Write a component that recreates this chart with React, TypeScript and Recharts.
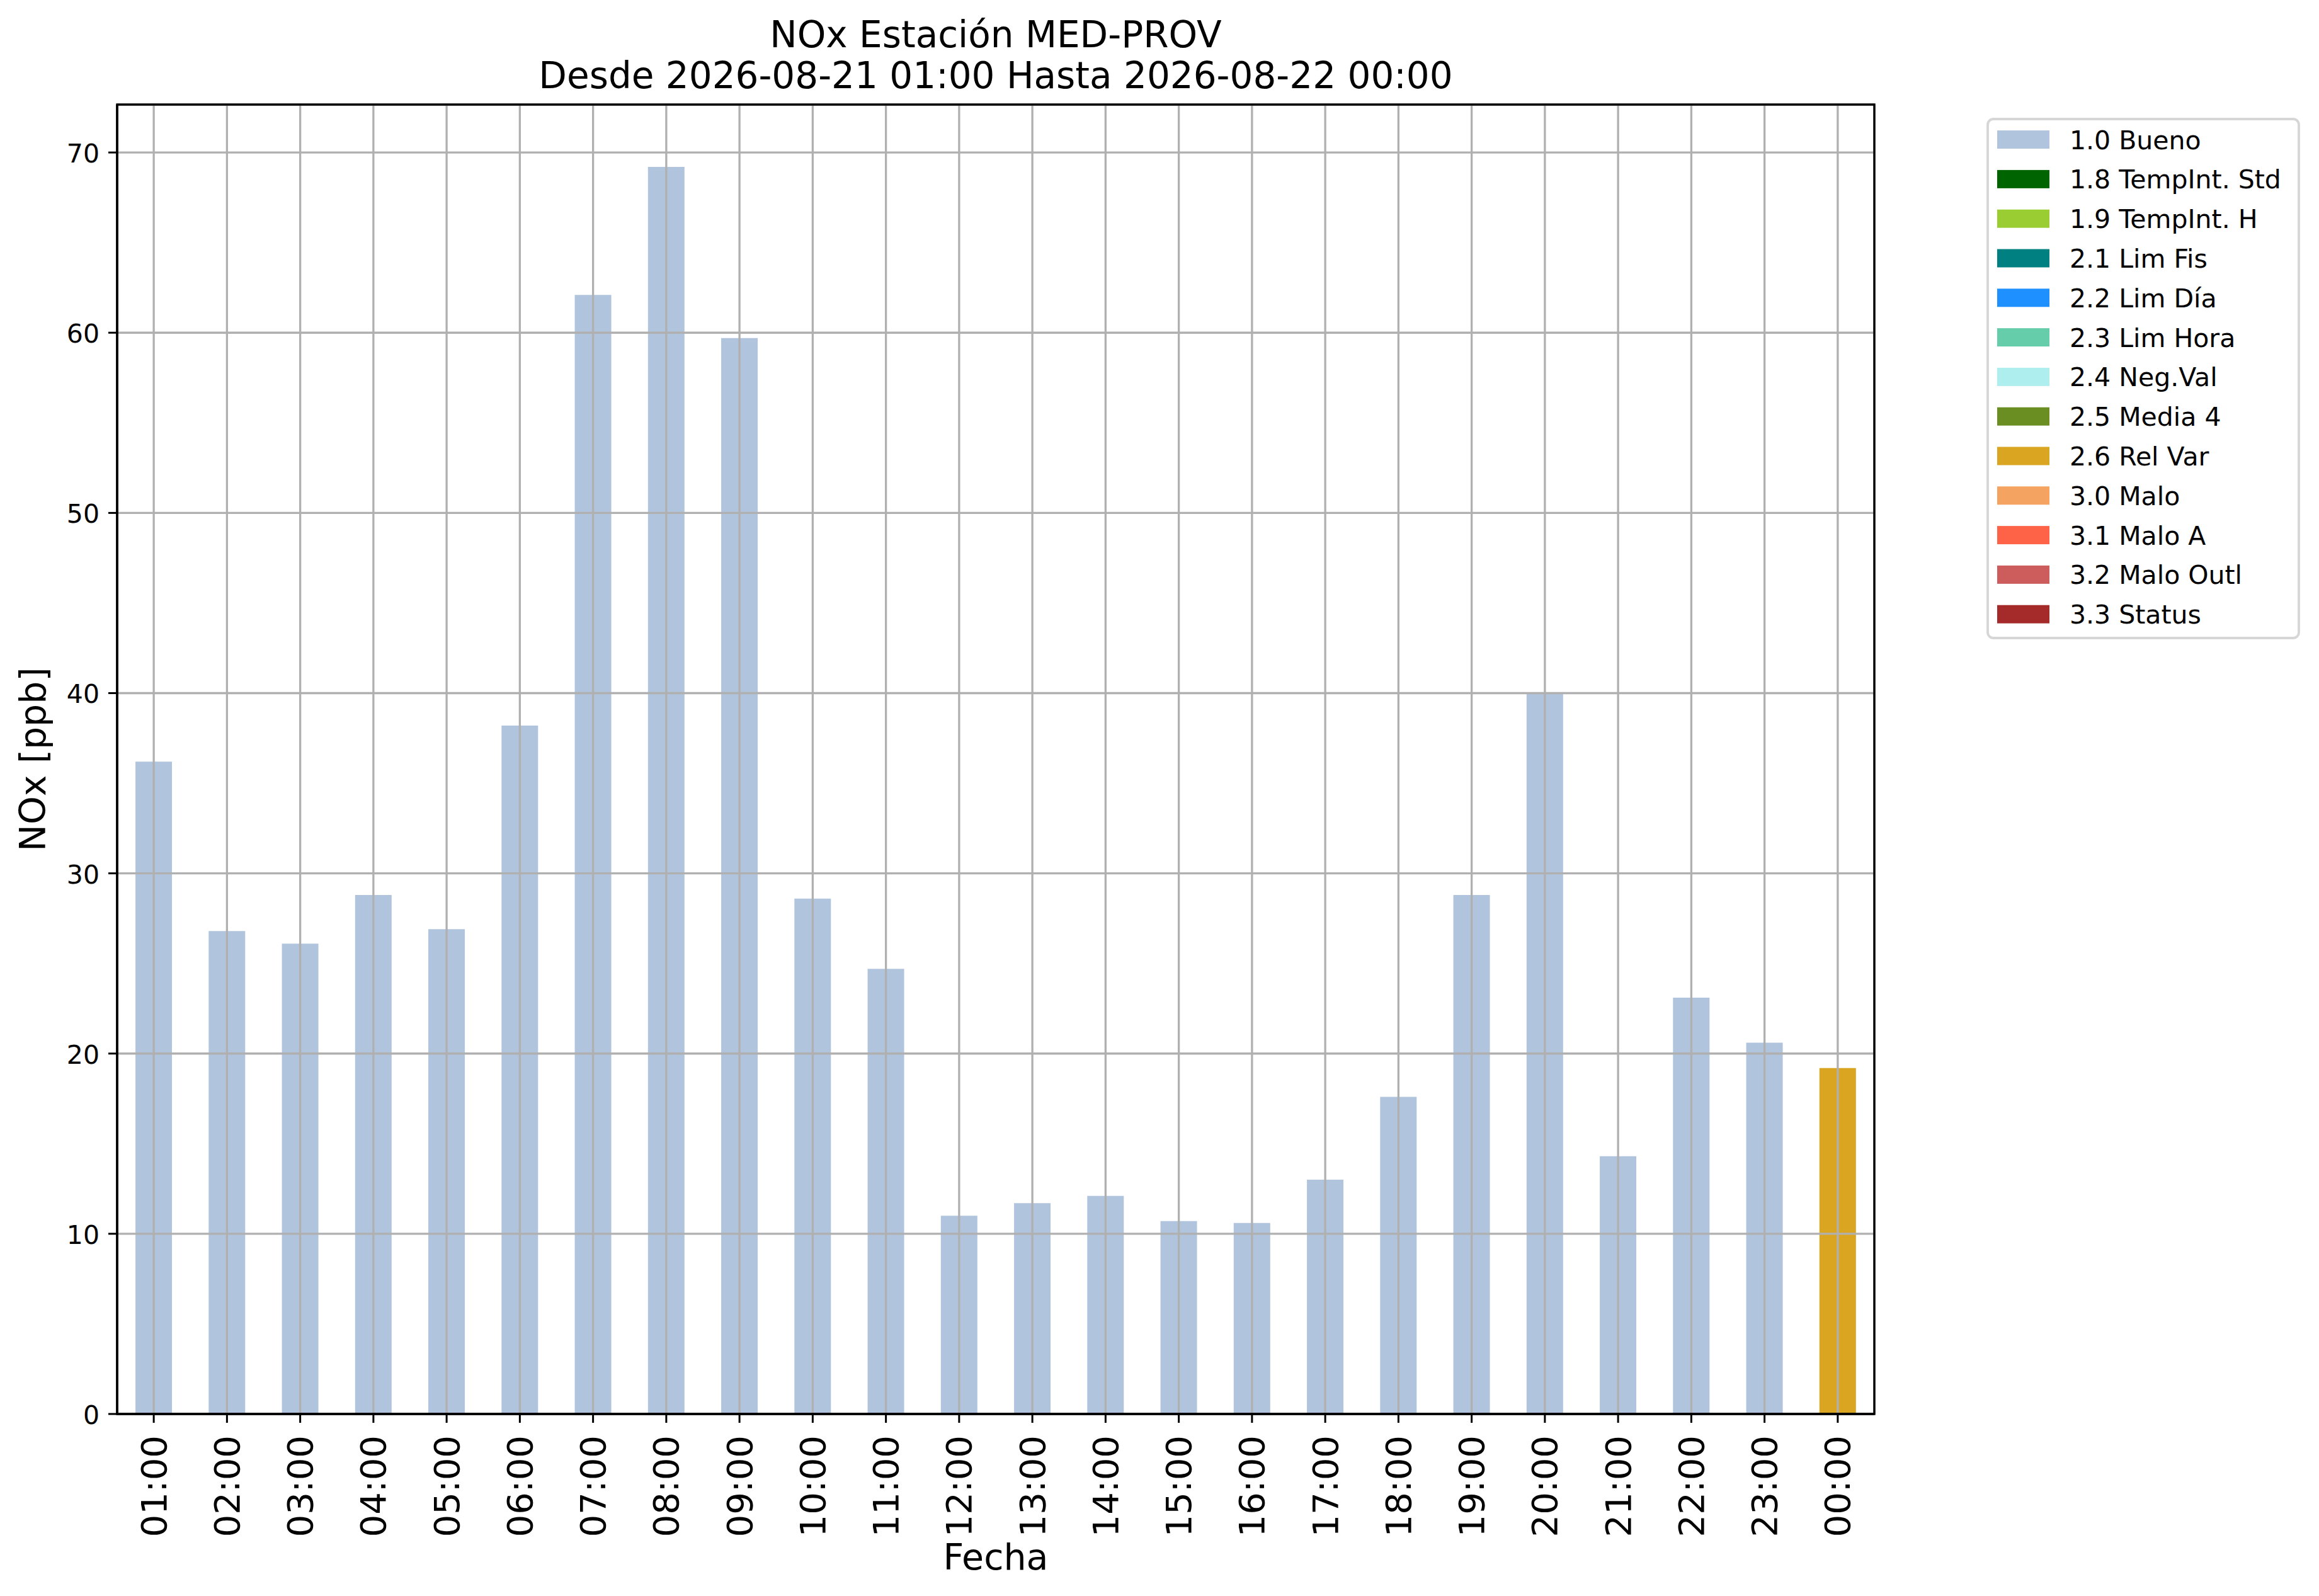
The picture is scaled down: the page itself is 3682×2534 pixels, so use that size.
import React from "react";
import {
  BarChart, Bar, Cell, XAxis, YAxis, CartesianGrid, Legend, ReferenceArea,
} from "recharts";

// hourly NOx readings, 2026-08-21 01:00 .. 2026-08-22 00:00
const HOURS = [
  "01:00", "02:00", "03:00", "04:00", "05:00", "06:00", "07:00", "08:00",
  "09:00", "10:00", "11:00", "12:00", "13:00", "14:00", "15:00", "16:00",
  "17:00", "18:00", "19:00", "20:00", "21:00", "22:00", "23:00", "00:00",
];
const NOX = [
  36.2, 26.8, 26.1, 28.8, 26.9, 38.2, 62.1, 69.2, 59.7, 28.6, 24.7, 11.0,
  11.7, 12.1, 10.7, 10.6, 13.0, 17.6, 28.8, 40.0, 14.3, 23.1, 20.6, 19.2,
];
const FLAGS = [
  "1.0", "1.0", "1.0", "1.0", "1.0", "1.0", "1.0", "1.0", "1.0", "1.0", "1.0", "1.0",
  "1.0", "1.0", "1.0", "1.0", "1.0", "1.0", "1.0", "1.0", "1.0", "1.0", "1.0", "2.6",
];

const FLAG_CODES = ["1.0", "1.8", "1.9", "2.1", "2.2", "2.3", "2.4", "2.5", "2.6", "3.0", "3.1", "3.2", "3.3"];
const FLAG_NAMES = [
  "Bueno", "TempInt. Std", "TempInt. H", "Lim Fis", "Lim Día", "Lim Hora",
  "Neg.Val", "Media 4", "Rel Var", "Malo", "Malo A", "Malo Outl", "Status",
];
const FLAG_COLORS = [
  "#B0C4DE", "#006400", "#9ACD32", "#008080", "#1E90FF", "#66CDAA",
  "#AFEEEE", "#6B8E23", "#DAA520", "#F4A460", "#FF6347", "#CD5C5C", "#A52A2A",
];

const Y_TICKS = [0, 10, 20, 30, 40, 50, 60, 70];
const Y_MAX = 72.66;

const TITLE = "NOx Estación MED-PROV";
const SUBTITLE = "Desde 2026-08-21 01:00 Hasta 2026-08-22 00:00";
const X_LABEL = "Fecha";
const Y_LABEL = "NOx [ppb]";

const FONT = "'DejaVu Sans', sans-serif";
const W = 3682;
const H = 2534;
const PLOT = { left: 186, top: 166, right: 2976, bottom: 2245 };

const data = HOURS.map((h, i) => ({ hour: h, value: NOX[i], flag: FLAGS[i] }));

function colorOf(flag: string) {
  return FLAG_COLORS[FLAG_CODES.indexOf(flag)] ?? "#B0C4DE";
}

function XTick({ x, y, payload }: any) {
  return (
    <text
      x={x} y={y} transform={`rotate(-90, ${x}, ${y})`}
      textAnchor="end" dominantBaseline="central"
      fontFamily={FONT} fontSize={56} fill="#000"
    >
      {payload.value}
    </text>
  );
}

function YTick({ x, y, payload }: any) {
  return (
    <text
      x={x} y={y + 2} textAnchor="end" dominantBaseline="central"
      fontFamily={FONT} fontSize={41} fill="#000"
    >
      {payload.value}
    </text>
  );
}

const LEG_W = 498;
const LEG_H = 828;
const ROW_PITCH = 62.8;

function FlagLegend() {
  return (
    <svg width={LEG_W} height={LEG_H} style={{ display: "block" }}>
      <rect
        x={2} y={2} width={LEG_W - 4} height={LEG_H - 4} rx={9}
        fill="#fff" fillOpacity={0.8} stroke="#d6d6d6" strokeWidth={3.8}
      />
      {FLAG_CODES.map((code, i) => {
        const cy = 34.6 + i * ROW_PITCH;
        return (
          <g key={code}>
            <rect x={17} y={cy - 14.5} width={83} height={29} fill={FLAG_COLORS[i]} />
            <text x={132} y={cy + 15} fontFamily={FONT} fontSize={41} fill="#000">
              {`${code} ${FLAG_NAMES[i]}`}
            </text>
          </g>
        );
      })}
    </svg>
  );
}

export default function App() {
  const cx = (PLOT.left + PLOT.right) / 2;
  const cy = (PLOT.top + PLOT.bottom) / 2;
  return (
    <div style={{ position: "absolute", left: 0, top: 0, width: W, height: H, background: "#fff" }}>
      <BarChart
        width={W} height={H} data={data}
        margin={{ top: PLOT.top, right: W - PLOT.right, bottom: 0, left: 0 }}
        barCategoryGap="25%"
      >
        <XAxis
          dataKey="hour" type="category" interval={0} height={H - PLOT.bottom}
          tick={<XTick />} tickSize={14} tickMargin={20}
          tickLine={{ stroke: "#000", strokeWidth: 3 }}
          axisLine={{ stroke: "#000", strokeWidth: 3.4 }}
        />
        <YAxis
          type="number" domain={[0, Y_MAX]} ticks={Y_TICKS} width={PLOT.left}
          tick={<YTick />} tickSize={14} tickMargin={14}
          tickLine={{ stroke: "#000", strokeWidth: 3 }}
          axisLine={{ stroke: "#000", strokeWidth: 3.4 }}
        />
        <Bar dataKey="value" isAnimationActive={false}>
          {data.map((d) => (
            <Cell key={d.hour} fill={colorOf(d.flag)} />
          ))}
        </Bar>
        {/* grid sits above the bars, as in the source plot */}
        <CartesianGrid stroke="#b0b0b0" strokeWidth={3.3} zIndex={350} />
        {/* plot frame */}
        <ReferenceArea
          y1={0} y2={Y_MAX} ifOverflow="visible"
          fill="none" fillOpacity={0} stroke="#000" strokeWidth={3.4} zIndex={600}
        />
        <Legend
          layout="vertical" align="center" verticalAlign="middle"
          content={() => <FlagLegend />}
          wrapperStyle={{ left: 3154, top: 187, width: LEG_W, height: LEG_H }}
        />
      </BarChart>
      <svg
        width={W} height={H}
        style={{ position: "absolute", left: 0, top: 0, pointerEvents: "none" }}
      >
        <text x={cx} y={75} textAnchor="middle" fontFamily={FONT} fontSize={58} fill="#000">
          {TITLE}
        </text>
        <text x={cx} y={140} textAnchor="middle" fontFamily={FONT} fontSize={58} fill="#000">
          {SUBTITLE}
        </text>
        <text x={cx} y={2492} textAnchor="middle" fontFamily={FONT} fontSize={57} fill="#000">
          {X_LABEL}
        </text>
        <text
          x={52} y={cy} transform={`rotate(-90, 52, ${cy})`}
          textAnchor="middle" dominantBaseline="central"
          fontFamily={FONT} fontSize={57} fill="#000"
        >
          {Y_LABEL}
        </text>
      </svg>
    </div>
  );
}
